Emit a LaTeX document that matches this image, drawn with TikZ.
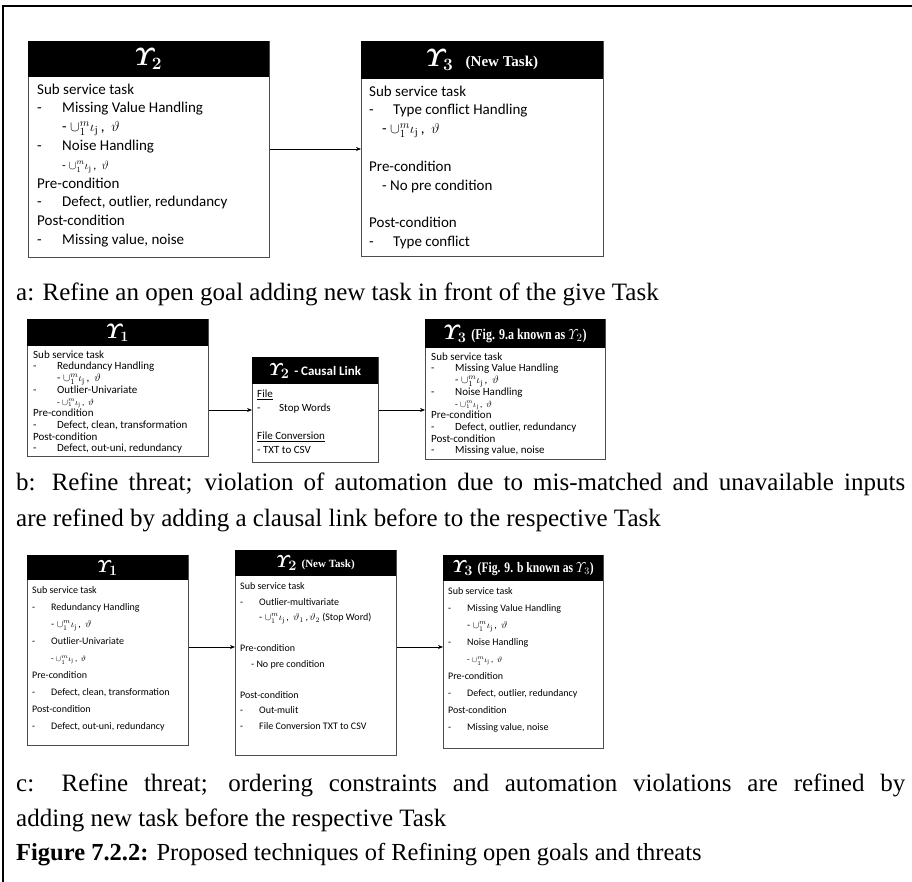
\documentclass[tikz,border=0pt]{standalone}
\usepackage{amsmath}
\usepackage{fontspec}
\setmainfont{Liberation Serif}
\newfontfamily\gsans{Carlito}
\newfontfamily\hserif{Liberation Serif}
\newfontfamily\hserifcond[FakeStretch=0.8]{Liberation Serif}
\usetikzlibrary{arrows.meta,calc}

% indentation used for the dash items inside the task boxes
\newlength\indw
\newcommand\itm[1]{\makebox[\indw][l]{-}#1}
\newcommand\subln[1]{\hspace*{\indw}#1}
\newcommand\unionline{- $\cup_{1}^{m}\iota_{\mathrm{j}}$\,,\ \ $\vartheta$}
\newcommand\Ups[1]{{\boldmath$\varUpsilon_{#1}$}}

\begin{document}
\begin{tikzpicture}[x=1pt,y=-1pt,
  taskbox/.style={draw=black!70,line width=0.9pt,fill=white,inner sep=0pt,anchor=north west},
  taskhead/.style={fill=black,text=white,inner sep=0pt,anchor=north west},
  tasktext/.style={inner sep=0pt,anchor=north west,align=left},
  link/.style={line width=0.8pt,-{Stealth[length=5pt,width=4pt]}},
  capt/.style={inner sep=0pt,anchor=west,font=\fontsize{25}{25}\selectfont}]
\useasboundingbox (0,0) rectangle (912,882);
% outer frame
\draw[line width=2pt] (3,882) -- (3,6) -- (914,6);

% ---------------- row a ----------------
\node[taskbox,minimum width=241,minimum height=216] (a1) at (28,41) {};
\node[taskhead,minimum width=241,minimum height=36,font=\fontsize{25}{25}\selectfont] (a1h) at (a1.north west) {\Ups{2}};
\node[tasktext,font={\gsans\fontsize{15}{18.8}\selectfont\setlength\indw{25pt}}] (a1t) at ($(a1h.south west)+(9,6)$) {%
Sub service task\\
\itm{Missing Value Handling}\\
\subln{\unionline}\\
\itm{Noise Handling}\\
\subln{{\fontsize{12}{12}\selectfont\unionline}}\\
Pre-condition\\
\itm{Defect, outlier, redundancy}\\
Post-condition\\
\itm{Missing value, noise}};

\node[taskbox,minimum width=242,minimum height=215] (a2) at (361,41) {};
\node[taskhead,minimum width=242,minimum height=38,font=\fontsize{25}{25}\selectfont] (a2h) at (a2.north west) {\Ups{3}\ \ {\hserif\bfseries\fontsize{15}{15}\selectfont(New Task)}};
\node[tasktext,font={\gsans\fontsize{15}{18.8}\selectfont\setlength\indw{24pt}}] (a2t) at ($(a2h.south west)+(8,6)$) {%
Sub service task\\
\itm{Type conflict Handling}\\
\hspace*{13pt}\unionline\\
\mbox{}\\
Pre-condition\\
\hspace*{13pt}- No pre condition\\
\mbox{}\\
Post-condition\\
\itm{Type conflict}};

\coordinate (ya) at (0,149);
\draw[link] (a1.east |- ya) -- (a2.west |- ya);

\node[capt] (capa) at (16,294) {a: Refine an open goal adding new task in front of the give Task};

% ---------------- row b ----------------
\node[taskbox,minimum width=181,minimum height=137] (b1) at (27,319) {};
\node[taskhead,minimum width=181,minimum height=27,font=\fontsize{20}{20}\selectfont] (b1h) at (b1.north west) {\Ups{1}};
\node[tasktext,font={\gsans\fontsize{11}{11.7}\selectfont\setlength\indw{24pt}}] (b1t) at ($(b1h.south west)+(6,4)$) {%
Sub service task\\
\itm{Redundancy Handling}\\
\subln{\unionline}\\
\itm{Outlier-Univariate}\\
\subln{{\fontsize{9}{9}\selectfont\unionline}}\\
Pre-condition\\
\itm{Defect, clean, transformation}\\
Post-condition\\
\itm{Defect, out-uni, redundancy}};

\node[taskbox,minimum width=126,minimum height=105] (b2) at (252,357) {};
\node[taskhead,minimum width=126,minimum height=27,font=\fontsize{19}{19}\selectfont] (b2h) at (b2.north west) {\Ups{2} {\gsans\bfseries\fontsize{13}{13}\selectfont - Causal Link}};
\node[tasktext,font={\gsans\fontsize{11}{14}\selectfont\setlength\indw{22pt}}] (b2t) at ($(b2h.south west)+(5,5)$) {%
\underline{File}\\
\itm{Stop Words}\\
\mbox{}\\
\underline{File Conversion}\\
- TXT to CSV};

\node[taskbox,minimum width=180,minimum height=140] (b3) at (425,319) {};
\node[taskhead,minimum width=180,minimum height=29,font=\fontsize{20}{20}\selectfont] (b3h) at (b3.north west) {\Ups{3} {\hserifcond\bfseries\fontsize{15}{15}\selectfont(Fig. 9.a known as $\varUpsilon_2$)}};
\node[tasktext,font={\gsans\fontsize{11}{11.7}\selectfont\setlength\indw{24pt}}] (b3t) at ($(b3h.south west)+(6,4)$) {%
Sub service task\\
\itm{Missing Value Handling}\\
\subln{\unionline}\\
\itm{Noise Handling}\\
\subln{{\fontsize{9}{9}\selectfont\unionline}}\\
Pre-condition\\
\itm{Defect, outlier, redundancy}\\
Post-condition\\
\itm{Missing value, noise}};

\coordinate (yb) at (0,410);
\draw[link] (b1.east |- yb) -- (b2.west |- yb);
\draw[link] (b2.east |- yb) -- (b3.west |- yb);

\node[capt] (capb1) at (16,484) {\makebox[889pt][s]{b: Refine threat; violation of automation due to mis-matched and unavailable inputs}};
\node[capt] (capb2) at (16,520) {are refined by adding a clausal link before to the respective Task};

% ---------------- row c ----------------
\node[taskbox,minimum width=161,minimum height=190] (c1) at (27,555) {};
\node[taskhead,minimum width=161,minimum height=25,font=\fontsize{19}{19}\selectfont] (c1h) at (c1.north west) {\Ups{1}};
\node[tasktext,font={\gsans\fontsize{10}{17}\selectfont\setlength\indw{19pt}}] (c1t) at ($(c1h.south west)+(5,6)$) {%
Sub service task\\
\itm{Redundancy Handling}\\
\subln{\unionline}\\
\itm{Outlier-Univariate}\\
\subln{{\fontsize{8.5}{8.5}\selectfont\unionline}}\\
Pre-condition\\
\itm{Defect, clean, transformation}\\
Post-condition\\
\itm{Defect, out-uni, redundancy}};

\node[taskbox,minimum width=161,minimum height=205] (c2) at (235,550) {};
\node[taskhead,minimum width=161,minimum height=26,font=\fontsize{19}{19}\selectfont] (c2h) at (c2.north west) {\Ups{2} {\hserif\bfseries\fontsize{11}{11}\selectfont(New Task)}};
\node[tasktext,font={\gsans\fontsize{10}{15.5}\selectfont\setlength\indw{19pt}}] (c2t) at ($(c2h.south west)+(5,6)$) {%
Sub service task\\
\itm{Outlier-multivariate}\\
\subln{- $\cup_{1}^{m}\iota_{\mathrm{j}}$\,,\ \ $\vartheta_{1}$\,,\,$\vartheta_{2}$ (Stop Word)}\\
\mbox{}\\
Pre-condition\\
\hspace*{11pt}- No pre condition\\
\mbox{}\\
Post-condition\\
\itm{Out-mulit}\\
\itm{File Conversion TXT to CSV}};

\node[taskbox,minimum width=160,minimum height=193] (c3) at (443,555) {};
\node[taskhead,minimum width=160,minimum height=26,font=\fontsize{19}{19}\selectfont] (c3h) at (c3.north west) {\Ups{3} {\hserifcond\bfseries\fontsize{14.5}{14.5}\selectfont(Fig. 9. b known as $\varUpsilon_3$)}};
\node[tasktext,font={\gsans\fontsize{10}{17}\selectfont\setlength\indw{19pt}}] (c3t) at ($(c3h.south west)+(5,6)$) {%
Sub service task\\
\itm{Missing Value Handling}\\
\subln{\unionline}\\
\itm{Noise Handling}\\
\subln{{\fontsize{8.5}{8.5}\selectfont\unionline}}\\
Pre-condition\\
\itm{Defect, outlier, redundancy}\\
Post-condition\\
\itm{Missing value, noise}};

\coordinate (yc) at (0,647);
\draw[link] (c1.east |- yc) -- (c2.west |- yc);
\draw[link] (c2.east |- yc) -- (c3.west |- yc);

\node[capt] (capc1) at (16,785) {\makebox[889pt][s]{c: Refine threat; ordering constraints and automation violations are refined by}};
\node[capt] (capc2) at (16,820) {adding new task before the respective Task};
\node[capt,font=\fontsize{24.5}{24.5}\selectfont] (capfig) at (16,855) {\textbf{Figure 7.2.2:} Proposed techniques of Refining open goals and threats};
\end{tikzpicture}
\end{document}
